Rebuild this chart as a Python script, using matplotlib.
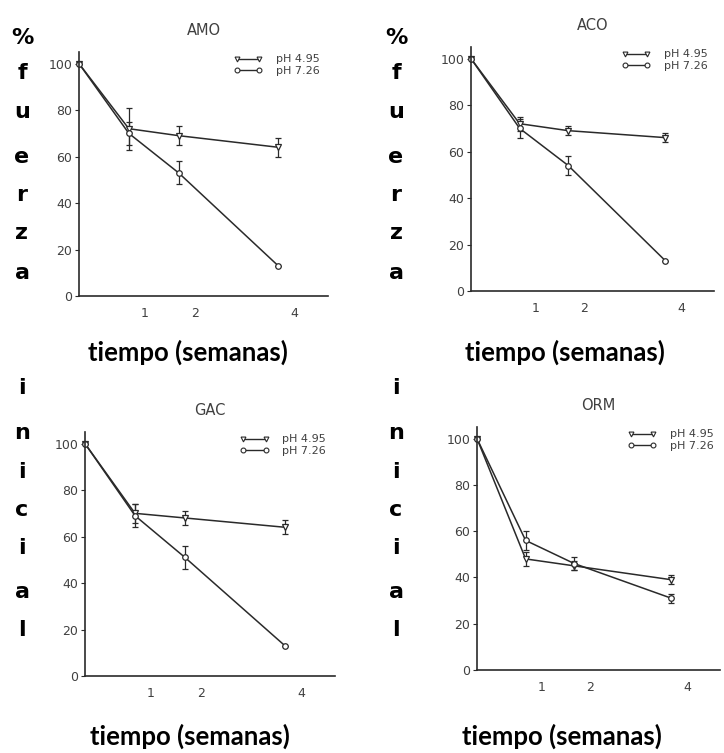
import matplotlib
matplotlib.use("Agg")
import matplotlib.pyplot as plt
from matplotlib.lines import Line2D
from matplotlib.transforms import ScaledTranslation

weeks = [0, 1, 2, 4]
week_ticks = [1, 2, 4]
y_ticks = [0, 20, 40, 60, 80, 100]
series_labels = ["pH 4.95", "pH 7.26"]

amo_ph495 = [100, 72, 69, 64]
amo_ph495_err = [0, 9, 4, 4]
amo_ph726 = [100, 70, 53, 13]
amo_ph726_err = [0, 5, 5, 0]

aco_ph495 = [100, 72, 69, 66]
aco_ph495_err = [0, 3, 2, 2]
aco_ph726 = [100, 70, 54, 13]
aco_ph726_err = [0, 4, 4, 0]

gac_ph495 = [100, 70, 68, 64]
gac_ph495_err = [0, 4, 3, 3]
gac_ph726 = [100, 69, 51, 13]
gac_ph726_err = [0, 5, 5, 0]

orm_ph495 = [100, 48, 45, 39]
orm_ph495_err = [0, 3, 2, 2]
orm_ph726 = [100, 56, 46, 31]
orm_ph726_err = [0, 4, 3, 2]

W, H = 724, 753
fig = plt.figure(figsize=(W / 100, H / 100), dpi=100)
ink = "#2a2a2a"
grey = "#404040"
big_font = ["DejaVu Sans"]
label_font = ["Lato", "DejaVu Sans"]


def px_axes(left, top, right, bottom):
    return fig.add_axes([left / W, 1 - bottom / H, (right - left) / W, (bottom - top) / H])


def panel(ax, title, a, a_err, b, b_err):
    ax.errorbar(weeks, a, yerr=a_err, color=ink, lw=1.1, marker="v", ms=4,
                mfc="white", mec=ink, mew=0.9, capsize=2, elinewidth=0.9,
                clip_on=False)
    ax.errorbar(weeks, b, yerr=b_err, color=ink, lw=1.1, marker="o", ms=4,
                mfc="white", mec=ink, mew=0.9, capsize=2, elinewidth=0.9,
                clip_on=False)
    ax.set_xlim(0, 5.0)
    ax.set_ylim(0, 105)
    ax.set_yticks(y_ticks)
    ax.set_xticks(week_ticks)
    ax.tick_params(axis="y", length=3, width=0.8, labelsize=9, labelcolor=grey, pad=2, color=ink)
    ax.tick_params(axis="x", length=0, labelsize=9, labelcolor=grey, pad=8)
    for s in ["top", "right"]:
        ax.spines[s].set_visible(False)
    for s in ["left", "bottom"]:
        ax.spines[s].set_color(ink)
        ax.spines[s].set_linewidth(1.2)
    ax.set_title(title, fontsize=10.5, color=grey, pad=12)
    off = ScaledTranslation(16 / 100, 0, fig.dpi_scale_trans)
    for lab in ax.get_xticklabels():
        lab.set_transform(lab.get_transform() + off)
    handles = [
        Line2D([], [], color=ink, lw=1.0, marker="v", ms=3.5, mfc="white", mec=ink, mew=0.8),
        Line2D([], [], color=ink, lw=1.0, marker="o", ms=3.5, mfc="white", mec=ink, mew=0.8),
    ]
    ax.legend(handles, series_labels, loc="upper left", bbox_to_anchor=(0.62, 0.99),
              frameon=False, fontsize=8, handlelength=2.6, handletextpad=1.2,
              labelspacing=0.1, borderpad=0, borderaxespad=0, numpoints=2,
              labelcolor=grey)


ax1 = px_axes(79, 52, 328, 296)
panel(ax1, "AMO", amo_ph495, amo_ph495_err, amo_ph726, amo_ph726_err)
ax2 = px_axes(471, 47, 714, 291)
panel(ax2, "ACO", aco_ph495, aco_ph495_err, aco_ph726, aco_ph726_err)
ax3 = px_axes(85, 432, 335, 676)
panel(ax3, "GAC", gac_ph495, gac_ph495_err, gac_ph726, gac_ph726_err)
ax4 = px_axes(477, 427, 720, 670)
panel(ax4, "ORM", orm_ph495, orm_ph495_err, orm_ph726, orm_ph726_err)

# vertical bold letters on the left of each column
top_letters = ["%", "f", "u", "e", "r", "z", "a"]
top_y = [38, 73, 112, 157, 195, 233, 273]
bot_letters = ["i", "n", "i", "c", "i", "a", "l"]
bot_y = [388, 433, 472, 510, 548, 592, 630]
for x in [22, 396]:
    for ch, y in zip(top_letters, top_y):
        fig.text(x / W, 1 - y / H, ch, ha="center", va="center", fontsize=16,
                 fontweight="bold", family=big_font, color="black")
    for ch, y in zip(bot_letters, bot_y):
        fig.text(x / W, 1 - y / H, ch, ha="center", va="center", fontsize=16,
                 fontweight="bold", family=big_font, color="black")

# x labels
for x, y in [(188, 352), (565, 352), (190, 736), (562, 736)]:
    fig.text(x / W, 1 - y / H, "tiempo (semanas)", ha="center", va="center",
             fontsize=18.5, fontweight="bold", family=label_font, color="black")

fig.savefig("out.png", dpi=100)
